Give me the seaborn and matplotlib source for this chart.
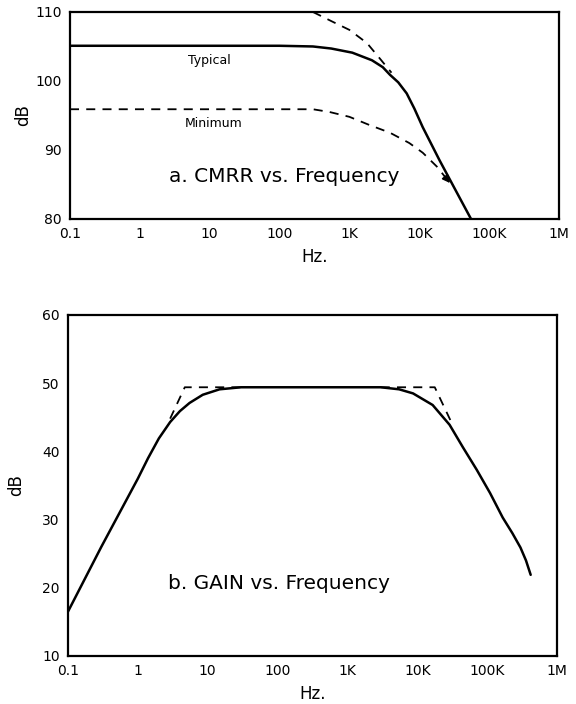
import numpy as np
import pandas as pd
import matplotlib
matplotlib.use("Agg")
import matplotlib.pyplot as plt
from matplotlib.ticker import NullLocator
import seaborn as sns

# ---------------- data ----------------
tick_freqs = [0.1, 1, 10, 100, 1e3, 1e4, 1e5, 1e6]
tick_labels = ["0.1", "1", "10", "100", "1K", "10K", "100K", "1M"]

cmrr_yticks = [80, 90, 100, 110]
gain_yticks = [10, 20, 30, 40, 50, 60]

# CMRR typical (solid)
cmrr_typ_f = [0.1, 100, 300, 550, 1100, 2100, 3000, 3800, 5000, 6600, 8500,
              11200, 19500, 35000, 55000]
cmrr_typ_db = [105.1, 105.1, 105.0, 104.7, 104.1, 103.0, 102.0, 100.9, 99.8,
               98.2, 96.0, 93.3, 88.5, 83.7, 80.0]

# CMRR asymptote (upper dashed)
cmrr_asym_f = [300, 570, 1000, 1780, 2700, 4000]
cmrr_asym_db = [110.0, 108.6, 107.4, 105.5, 103.3, 101.2]

# CMRR minimum (lower dashed, ends with arrow)
cmrr_min_f = [0.1, 300, 520, 1000, 1950, 3800, 7200, 11200, 17800, 27500]
cmrr_min_db = [95.9, 95.9, 95.5, 94.8, 93.6, 92.5, 91.0, 89.6, 87.6, 85.2]

# Gain (solid)
gain_f = [0.1, 0.3, 1.0, 1.4, 2.0, 2.9, 4.0, 5.5, 8.5, 14.8, 30, 3000, 5500, 8700,
          16600, 29000, 45000, 71000, 110000, 167000, 230000, 300000, 360000, 420000]
gain_db = [16.5, 26.0, 36.0, 39.0, 41.9, 44.3, 45.9, 47.1, 48.3, 49.1, 49.4, 49.4,
           49.1, 48.5, 46.8, 43.9, 40.6, 37.3, 33.9, 30.3, 28.0, 25.9, 24.0, 21.9]

# Gain asymptotes (dashed)
gain_lo_f = [2.9, 4.7, 30]
gain_lo_db = [44.8, 49.4, 49.4]
gain_hi_f = [3000, 17800, 31000]
gain_hi_db = [49.4, 49.4, 44.2]

# ---------------- style ----------------
sns.set_style("white")
plt.rcParams['font.family'] = ['DejaVu Sans']
plt.rcParams['text.color'] = 'black'
plt.rcParams['axes.labelcolor'] = 'black'

fig = plt.figure(figsize=(5.76, 7.04), dpi=100)
ax1 = fig.add_axes([0.1215, 0.689, 0.849, 0.294])
ax2 = fig.add_axes([0.118, 0.0682, 0.849, 0.4844])

solid_kw = dict(color="black", linewidth=1.8, estimator=None, sort=False)
dash_kw = dict(color="black", linewidth=1.3, estimator=None, sort=False,
               linestyle=(0, (5, 4)))

# ---- panel a ----
sns.lineplot(x=cmrr_typ_f, y=cmrr_typ_db, ax=ax1, **solid_kw)
sns.lineplot(x=cmrr_asym_f, y=cmrr_asym_db, ax=ax1, **dash_kw)
sns.lineplot(x=cmrr_min_f, y=cmrr_min_db, ax=ax1, **dash_kw)
ax1.annotate("", xy=(cmrr_min_f[-1], cmrr_min_db[-1]),
             xytext=(cmrr_min_f[-2], cmrr_min_db[-2]),
             arrowprops=dict(arrowstyle="-|>", color="black", lw=1.2,
                             mutation_scale=11, shrinkA=9, shrinkB=0))
ax1.text(10, 103.0, "Typical", fontsize=9, ha="center", va="center")
ax1.text(11.5, 93.9, "Minimum", fontsize=9, ha="center", va="center")
ax1.text(0.4376, 0.203, "a. CMRR vs. Frequency", transform=ax1.transAxes,
         fontsize=14.5, ha="center", va="center")
ax1.set_ylim(80, 110)
ax1.set_yticks(cmrr_yticks)

# ---- panel b ----
sns.lineplot(x=gain_f, y=gain_db, ax=ax2, **solid_kw)
sns.lineplot(x=gain_lo_f, y=gain_lo_db, ax=ax2, **dash_kw)
sns.lineplot(x=gain_hi_f, y=gain_hi_db, ax=ax2, **dash_kw)
ax2.text(0.4315, 0.214, "b. GAIN vs. Frequency", transform=ax2.transAxes,
         fontsize=14.5, ha="center", va="center")
ax2.set_ylim(10, 60)
ax2.set_yticks(gain_yticks)

for ax in (ax1, ax2):
    ax.set_xscale("log")
    ax.set_xlim(tick_freqs[0], tick_freqs[-1])
    ax.set_xticks(tick_freqs)
    ax.set_xticklabels(tick_labels)
    ax.xaxis.set_minor_locator(NullLocator())
    ax.tick_params(direction="in", length=7, width=1.3, colors="black",
                   labelsize=10, pad=6)
    for s in ax.spines.values():
        s.set_visible(True)
        s.set_color("black")
        s.set_linewidth(1.6)
    ax.set_xlabel("Hz.", fontsize=12, labelpad=5)
    ax.set_ylabel("dB", fontsize=12)

ax1.yaxis.set_label_coords(-0.078, 0.5)
ax2.yaxis.set_label_coords(-0.088, 0.5)

fig.savefig("out.png", dpi=100)
